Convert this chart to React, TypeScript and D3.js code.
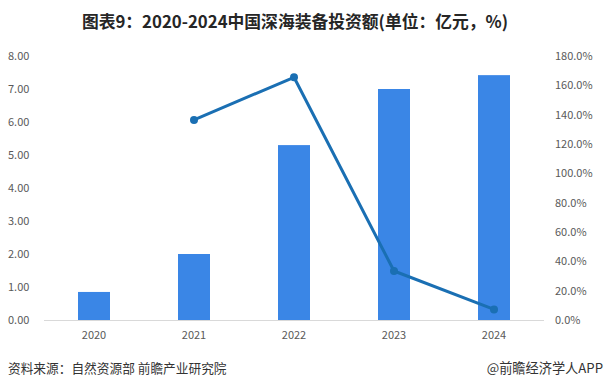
import React from 'react';
import * as d3 from 'd3';

const years = ['2020', '2021', '2022', '2023', '2024'];
const investment = [0.85, 2.0, 5.3, 7.0, 7.42];
const growthYears = ['2021', '2022', '2023', '2024'];
const growth = [136.4, 165.5, 33.4, 7.2];
const leftTicks = [0, 1, 2, 3, 4, 5, 6, 7, 8];
const rightTicks = [0, 20, 40, 60, 80, 100, 120, 140, 160, 180];

const width = 604;
const height = 388;
const margin = { top: 56, right: 60, bottom: 68, left: 44 };
const font = '"Noto Sans CJK SC", "Noto Sans", sans-serif';

const App: React.FC = () => {
  const x = d3.scaleBand<string>()
    .domain(years)
    .range([margin.left, width - margin.right])
    .paddingInner(0.68)
    .paddingOuter(0.34);

  const yLeft = d3.scaleLinear().domain([0, 8]).range([height - margin.bottom, margin.top]);
  const yRight = d3.scaleLinear().domain([0, 180]).range([height - margin.bottom, margin.top]);

  const line = d3.line<number>()
    .x((_, i) => x(growthYears[i])! + x.bandwidth() / 2)
    .y(d => yRight(d));

  const baseY = height - margin.bottom;

  return (
    <svg width={width} height={height} style={{ position: 'absolute', left: 0, top: 0, background: '#fff' }}>
      <text x={295} y={28} textAnchor="middle" fontFamily={font} fontWeight="bold" fontSize={16.8} fill="#262626">
        图表9：2020-2024中国深海装备投资额(单位：亿元，%)
      </text>

      {leftTicks.map(t => (
        <text key={t} x={8} y={yLeft(t)} dy="0.35em" fontFamily={font} fontSize={11} fill="#595959">
          {t.toFixed(2)}
        </text>
      ))}
      {rightTicks.map(t => (
        <text key={t} x={555} y={yRight(t)} dy="0.35em" fontFamily={font} fontSize={11} fill="#595959">
          {t.toFixed(1)}%
        </text>
      ))}

      {years.map((yr, i) => (
        <rect
          key={yr}
          x={x(yr)}
          y={yLeft(investment[i])}
          width={x.bandwidth()}
          height={baseY - yLeft(investment[i])}
          fill="#3a86e6"
        />
      ))}

      <line x1={margin.left} x2={width - margin.right} y1={baseY + 0.5} y2={baseY + 0.5} stroke="#d9d9d9" />

      {years.map(yr => (
        <text key={yr} x={x(yr)! + x.bandwidth() / 2} y={baseY + 19} textAnchor="middle" fontFamily={font} fontSize={11} fill="#595959">
          {yr}
        </text>
      ))}

      <path d={line(growth) || ''} fill="none" stroke="#1a6fb3" strokeWidth={3} strokeLinejoin="round" />
      {growth.map((g, i) => (
        <circle key={i} cx={x(growthYears[i])! + x.bandwidth() / 2} cy={yRight(g)} r={4} fill="#1a6fb3" />
      ))}

      <text x={8} y={373} fontFamily={font} fontSize={12.7} fill="#333">
        资料来源：自然资源部 前瞻产业研究院
      </text>
      <text x={603} y={373} textAnchor="end" fontFamily={font} fontSize={13.2} fill="#333">
        @前瞻经济学人APP
      </text>
    </svg>
  );
};

export default App;
